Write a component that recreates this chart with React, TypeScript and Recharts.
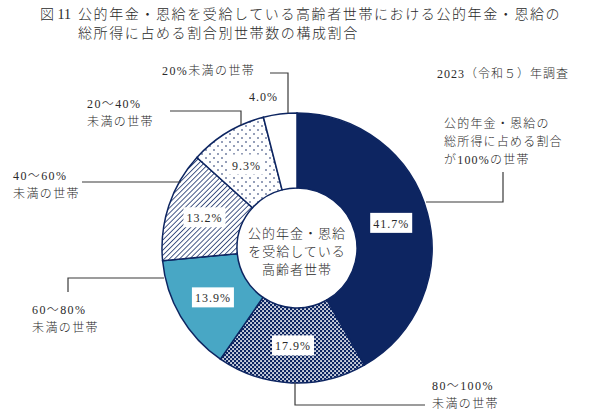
import { Cell, Pie, PieChart } from "recharts";

const categories = [
  "公的年金・恩給の総所得に占める割合が100%の世帯",
  "80～100%未満の世帯",
  "60～80%未満の世帯",
  "40～60%未満の世帯",
  "20～40%未満の世帯",
  "20%未満の世帯",
];
const shares = [41.7, 17.9, 13.9, 13.2, 9.3, 4.0];

const titleLines = [
  "公的年金・恩給を受給している高齢者世帯における公的年金・恩給の",
  "総所得に占める割合別世帯数の構成割合",
];
const centerLines = ["公的年金・恩給", "を受給している", "高齢者世帯"];

const NAVY = "#0d2561";
const TEAL = "#48a7c5";
const INK = "#2a2a2a";
const LINE = "#3a3a3a";
const FONT = "'Liberation Serif', 'Noto Sans CJK JP', serif";
const WEIGHT = 300;
const CX = 297;
const CY = 248;
const FILLS = ["url(#solidNavy)", "url(#checker)", TEAL, "url(#hatch)", "url(#dots)", "#ffffff"];

const rows = categories.map((name, i) => ({ name, value: shares[i] }));

const RAD = Math.PI / 180;

function SliceLabel(props: any) {
  const { cx, cy, midAngle, innerRadius, outerRadius, value } = props;
  const text = `${Number(value).toFixed(1)}%`;
  if (value < 5) {
    // 小さい扇形は外側に表示
    const r = outerRadius + 17;
    const x = cx + r * Math.cos(-midAngle * RAD);
    const y = cy + r * Math.sin(-midAngle * RAD);
    return (
      <text x={x} y={y} textAnchor="end" dominantBaseline="central" fontSize={12} fill={INK} fontFamily={FONT} letterSpacing={1}>
        {text}
      </text>
    );
  }
  const r = (innerRadius + outerRadius) / 2;
  const x = cx + r * Math.cos(-midAngle * RAD);
  const y = cy + r * Math.sin(-midAngle * RAD);
  const w = text.length > 4 ? 42 : 36;
  return (
    <g>
      <rect x={x - w / 2} y={y - 10} width={w} height={20} fill="#ffffff" />
      <text x={x} y={y + 1} textAnchor="middle" dominantBaseline="central" fontSize={12} fill={INK} fontFamily={FONT} letterSpacing={1}>
        {text}
      </text>
    </g>
  );
}

function Lines({ x, y, lines, gap = 18, anchor = "start", size = 12, spacing = 1 }: any) {
  return (
    <text
      x={x}
      y={y}
      textAnchor={anchor}
      dominantBaseline="central"
      fontSize={size}
      fill={INK}
      fontFamily={FONT}
      fontWeight={WEIGHT}
      letterSpacing={spacing}
    >
      {lines.map((l: string, i: number) => (
        <tspan key={i} x={x} dy={i === 0 ? 0 : gap}>
          {l}
        </tspan>
      ))}
    </text>
  );
}

export default function App() {
  return (
    <div style={{ position: "absolute", left: 0, top: 0, width: 590, height: 415, background: "#fff" }}>
      <svg width={0} height={0} style={{ position: "absolute" }}>
        <defs>
          <pattern id="solidNavy" width={4} height={4} patternUnits="userSpaceOnUse">
            <rect width={4} height={4} fill={NAVY} />
          </pattern>
          <pattern id="checker" width={4} height={4} patternUnits="userSpaceOnUse">
            <rect width={4} height={4} fill={NAVY} />
            <rect x={0.2} y={0.2} width={1.7} height={1.7} fill="#ffffff" />
            <rect x={2.2} y={2.2} width={1.7} height={1.7} fill="#ffffff" />
          </pattern>
          <pattern id="hatch" width={3.6} height={3.6} patternUnits="userSpaceOnUse" patternTransform="rotate(45)">
            <rect width={3.6} height={3.6} fill="#ffffff" />
            <line x1={0} y1={0} x2={0} y2={3.6} stroke={NAVY} strokeWidth={1.5} />
          </pattern>
          <pattern id="dots" width={8} height={8} patternUnits="userSpaceOnUse">
            <rect width={8} height={8} fill="#ffffff" />
            <circle cx={2} cy={2} r={0.8} fill={NAVY} />
            <circle cx={6} cy={6} r={0.8} fill={NAVY} />
          </pattern>
        </defs>
      </svg>
      <PieChart width={590} height={415} margin={{ top: 0, right: 0, bottom: 0, left: 0 }}>
        <Pie
          data={rows}
          dataKey="value"
          nameKey="name"
          cx={CX}
          cy={CY}
          innerRadius={60}
          outerRadius={135}
          startAngle={90}
          endAngle={-270}
          stroke={NAVY}
          strokeWidth={1.5}
          label={SliceLabel}
          labelLine={false}
          isAnimationActive={false}
        >
          {rows.map((r, i) => (
            <Cell key={r.name} fill={FILLS[i]} />
          ))}
        </Pie>
      </PieChart>
      <svg width={590} height={415} style={{ position: "absolute", left: 0, top: 0, pointerEvents: "none" }}>
        <text x={40} y={14} dominantBaseline="central" fontSize={14} fill={INK} fontFamily={FONT} fontWeight={WEIGHT}>
          図 11
        </text>
        <Lines x={78} y={14} lines={titleLines} gap={19} size={14} spacing={1.6} />
        <text x={437} y={74} dominantBaseline="central" fontSize={12} fill={INK} fontFamily={FONT} fontWeight={WEIGHT} letterSpacing={1}>
          2023（令和５）年調査
        </text>
        <Lines x={CX} y={233} lines={centerLines} gap={18} anchor="middle" size={13} />

        <Lines x={162} y={71} lines={["20%未満の世帯"]} spacing={1.4} />
        <Lines x={87} y={104} lines={["20～40%", "未満の世帯"]} spacing={1.4} />
        <Lines x={13} y={176} lines={["40～60%", "未満の世帯"]} spacing={1.4} />
        <Lines x={32} y={310} lines={["60～80%", "未満の世帯"]} spacing={1.4} />
        <Lines x={432} y={386} lines={["80～100%", "未満の世帯"]} spacing={1.4} />
        <Lines x={444} y={124} lines={["公的年金・恩給の", "総所得に占める割合", "が100%の世帯"]} spacing={1.2} />

        <g fill="none" stroke={LINE} strokeWidth={1.2}>
          <polyline points="270,73 288,73 288,113" />
          <polyline points="170,111 241,111 241,125" />
          <polyline points="82,182 181,182" />
          <polyline points="68,292 68,278 164,278" />
          <polyline points="295,383 295,405 425,405" />
          <polyline points="503,172 503,202 426,202" />
        </g>
      </svg>
    </div>
  );
}
